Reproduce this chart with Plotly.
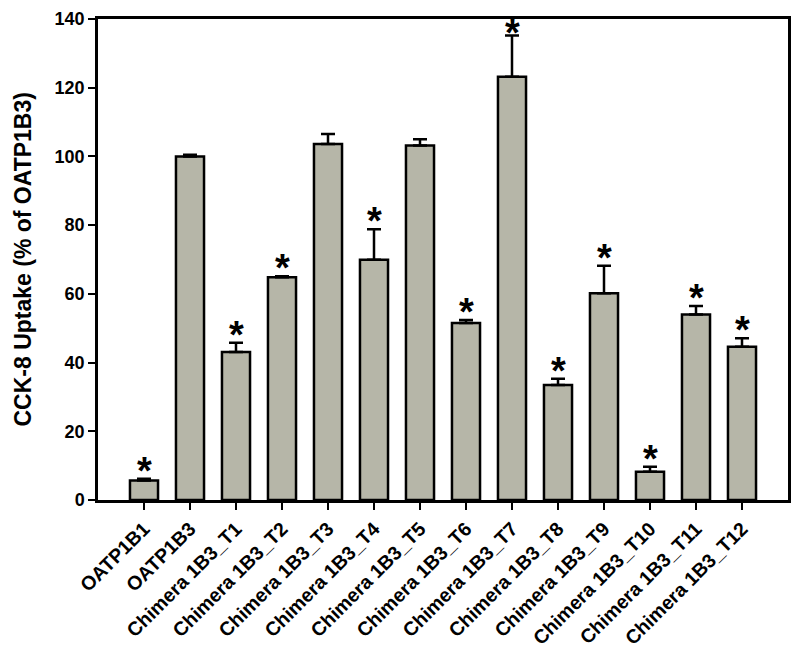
import plotly.graph_objects as go

categories = ["OATP1B1", "OATP1B3", "Chimera 1B3_T1", "Chimera 1B3_T2", "Chimera 1B3_T3",
              "Chimera 1B3_T4", "Chimera 1B3_T5", "Chimera 1B3_T6", "Chimera 1B3_T7",
              "Chimera 1B3_T8", "Chimera 1B3_T9", "Chimera 1B3_T10", "Chimera 1B3_T11",
              "Chimera 1B3_T12"]
values = [5.7, 100.0, 43.1, 64.8, 103.6, 69.9, 103.2, 51.5, 123.2, 33.5, 60.2, 8.2, 54.0, 44.6]
errors = [0.5, 0.5, 2.7, 0.3, 2.9, 8.9, 1.8, 0.9, 12.0, 1.8, 8.0, 1.5, 2.5, 2.5]
significant = [True, False, True, True, False, True, False, True, True, True, True, True, True, True]
y_ticks = [0, 20, 40, 60, 80, 100, 120, 140]

FONT = "Liberation Sans, Arial, sans-serif"
xs = list(range(len(categories)))

# page body has an 8px default margin; compensate so the plot area lands at x 98..788, y 19..500
OFF = 8
W, H = 800 - OFF, 656 - OFF
ML, MR, MT, MB = 98 - OFF, 12, 19 - OFF, 156
PW = W - ML - MR

fig = go.Figure()
fig.add_trace(go.Bar(
    x=xs, y=values, width=0.61,
    marker=dict(color="rgb(182,182,168)", line=dict(color="black", width=2.5)),
    error_y=dict(type="data", array=errors, arrayminus=[0] * len(errors), symmetric=False,
                 color="black", thickness=2.5, width=7),
    showlegend=False,
))

STAR_MAX = 133.5  # keep the highest asterisk just inside the frame, as in the reference
for x, v, e, s in zip(xs, values, errors, significant):
    if s:
        fig.add_annotation(x=x, y=min(v + e, STAR_MAX), text="<b>*</b>", showarrow=False,
                           xref="x", yref="y", yanchor="bottom", yshift=-15,
                           font=dict(family=FONT, size=38, color="black"))

fig.add_annotation(x=(22 - OFF - ML) / PW, y=0.5, xref="paper", yref="paper",
                   xanchor="center", yanchor="middle",
                   text="<b>CCK-8 Uptake (% of OATP1B3)</b>", showarrow=False,
                   textangle=-90, font=dict(family=FONT, size=23, color="black"))

fig.update_layout(
    width=W, height=H,
    margin=dict(l=ML, r=MR, t=MT, b=MB, autoexpand=False),
    paper_bgcolor="white", plot_bgcolor="white",
    font=dict(family=FONT, color="black"),
)
fig.update_xaxes(
    range=[-1, len(categories)], tickvals=xs, ticktext=["<b>%s</b>" % c for c in categories],
    tickangle=-45, tickfont=dict(family=FONT, size=19.5, color="black"),
    ticks="outside", ticklen=7, tickwidth=2, tickcolor="black",
    showline=True, linewidth=2.5, linecolor="black", mirror=True,
    showgrid=False, zeroline=False, automargin=False,
)
fig.update_yaxes(
    range=[0, 140], tickvals=y_ticks, ticktext=["<b>%d</b>" % t for t in y_ticks],
    tickfont=dict(family=FONT, size=18, color="black"),
    ticks="outside", ticklen=7, tickwidth=2, tickcolor="black",
    showline=True, linewidth=2.5, linecolor="black", mirror=True,
    showgrid=False, zeroline=False, automargin=False,
)

fig.write_html("out.html")
